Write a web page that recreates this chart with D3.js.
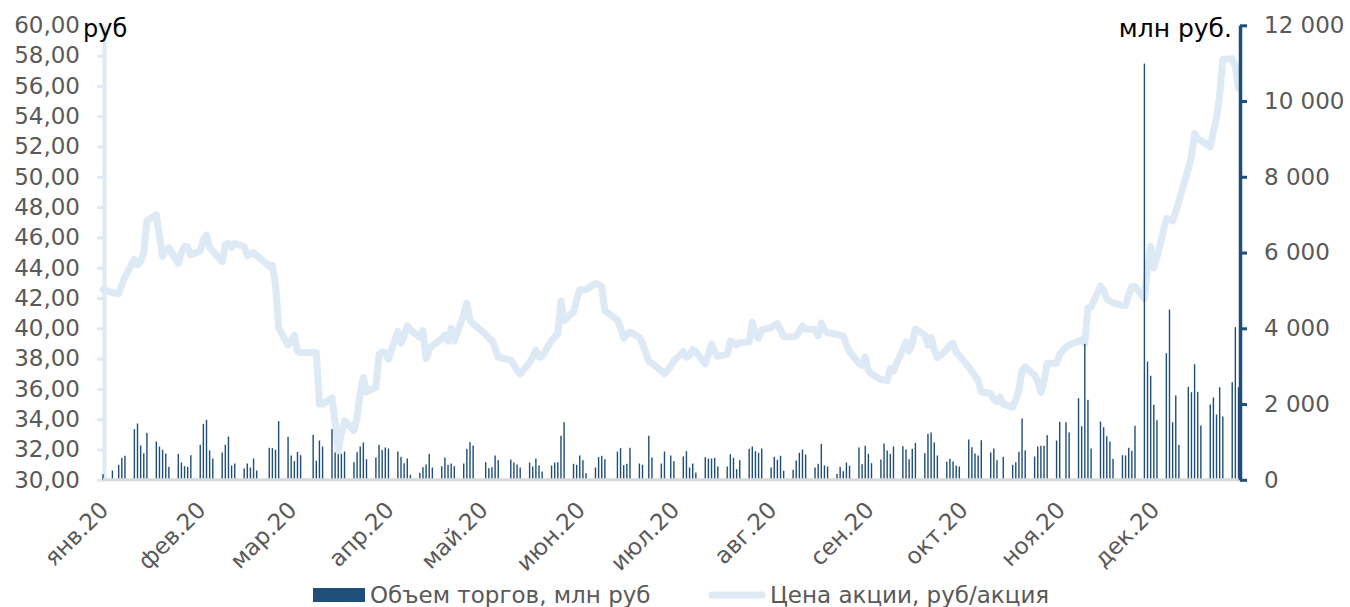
<!DOCTYPE html>
<html>
<head>
<meta charset="utf-8">
<script src="https://cdn.jsdelivr.net/npm/d3@7"></script>
<style>
  html, body { margin: 0; padding: 0; background: #fff; }
  svg { display: block; font-family: "DejaVu Sans", Verdana, sans-serif; }
</style>
</head>
<body>
<svg id="chart" width="1350" height="607"></svg>
<script>
// Exchange holidays (weekdays without trading) in 2020
const holidays = [
  "2020-01-07", "2020-02-24", "2020-03-09", "2020-05-01", "2020-05-11",
  "2020-06-12", "2020-06-24", "2020-07-01", "2020-11-04"
];

// Closing share price, rub per share, one value per trading day
const priceValues = [
  42.55,
  42.35, 42.3, 42.85, 43.4,
  44.55, 44.2, 44.4, 45.0, 47.1,
  47.5, 46.1, 44.75, 45.1, 45.3,
  44.3, 45.0, 45.4, 45.35, 44.85,
  45.1, 45.9, 46.15, 45.3, 45.1,
  44.4, 45.5, 45.6, 45.35, 45.6,
  45.4, 44.8, 44.9, 45.0, 44.8,
  44.1, 44.15, 42.9, 40.0,
  38.9, 39.2, 39.55, 38.5, 38.4,
  38.4, 38.4, 35.0, 35.0,
  35.4, 33.8, 31.9, 33.1, 33.9,
  33.25, 34.1, 35.7, 36.75, 35.8,
  36.1, 38.3, 38.45, 38.4, 37.95,
  39.8, 39.0, 39.5, 40.15, 39.9,
  39.4, 39.85, 38.0, 38.6, 38.85,
  39.3, 39.55, 39.15, 40.0, 39.15,
  40.9, 41.65, 40.55, 40.3,
  39.6, 39.35, 39.2, 38.7, 38.1,
  37.9, 37.6, 37.2, 36.98,
  37.75, 38.1, 38.55, 38.1, 38.15,
  39.2, 39.4, 39.65, 41.8, 40.5,
  41.1, 41.9, 42.55, 42.55, 42.55,
  42.95, 42.9, 42.75, 41.15,
  40.55, 40.0, 39.35, 39.6, 39.75,
  39.4, 39.0, 37.8, 37.7,
  37.2, 37.0, 37.5, 37.85,
  38.45, 38.1, 38.2, 38.6, 38.45,
  37.65, 38.3, 38.95, 38.45, 38.15,
  38.3, 39.15, 39.05, 38.9, 39.05,
  39.1, 40.4, 39.55, 39.35, 39.9,
  40.05, 40.2, 40.3, 39.9, 39.45,
  39.45, 39.5, 39.8, 40.15, 39.95,
  39.9, 39.5, 40.35, 39.9, 39.7,
  39.6, 39.55, 39.5, 38.9, 38.45,
  37.7, 37.55, 38.1, 37.2, 37.0,
  36.6, 36.6, 36.55, 37.35, 37.2,
  38.6, 39.1, 38.5, 39.0, 39.95,
  39.55, 38.9, 39.4, 38.6, 38.05,
  38.6, 38.9, 39.0, 38.4, 38.2,
  37.45, 37.15, 36.85, 36.55, 35.8,
  35.7, 35.3, 35.15, 35.45, 35.0,
  34.8, 35.3, 35.95, 37.2, 37.45,
  36.9, 36.5, 35.75, 36.5, 37.7,
  37.7, 38.3, 38.75, 38.9,
  39.15, 39.25, 39.0, 41.35, 41.4,
  42.8, 42.5, 41.95, 41.8, 41.7,
  41.5, 41.5, 42.2, 42.75, 42.75,
  41.95, 44.0, 45.4, 44.0, 44.7,
  47.25, 47.2, 47.1, 47.7, 48.4,
  50.55, 51.35, 52.85, 52.5, 52.4,
  52.0, 53.0, 53.9, 55.4, 57.75,
  57.8, 57.3, 55.85
];

// Trading volume, mln rub, one value per trading day
const volumeValues = [
  150,
  245, 396, 580, 634,
  1336, 1486, 905, 702, 1240,
  1011, 879, 792, 694, 343,
  686, 457, 359, 343, 650,
  924, 1478, 1584, 774, 562,
  721, 924, 1143, 378, 430,
  298, 430, 325, 562, 245,
  845, 836, 792, 1548,
  1135, 642, 492, 739, 650,
  1188, 502, 1037, 879,
  1336, 721, 676, 686, 747,
  465, 729, 879, 985, 544,
  589, 924, 792, 853, 826,
  747, 607, 438, 562, 132,
  185, 333, 404, 686, 325,
  359, 589, 396, 430, 359,
  430, 818, 993, 906,
  465, 307, 333, 642, 518,
  536, 457, 404, 325,
  457, 351, 562, 378, 219,
  378, 457, 465, 1162, 1521,
  422, 396, 642, 518, 174,
  325, 597, 634, 544,
  747, 836, 386, 422, 845,
  430, 396, 1162, 589,
  430, 747, 642, 492,
  615, 755, 325, 430, 193,
  597, 562, 562, 580, 351,
  351, 676, 580, 280, 518,
  818, 879, 755, 712, 826,
  325, 607, 528, 634, 238,
  264, 510, 712, 800, 668,
  325, 422, 950, 378, 351,
  158, 343, 227, 457, 370,
  853, 412, 898, 686, 438,
  536, 958, 774, 686, 879,
  888, 800, 544, 818, 976,
  703, 1214, 1249, 985, 642,
  475, 554, 483, 378, 351,
  1064, 861, 694, 642, 1046,
  721, 826, 518, 0, 607,
  396, 465, 739, 1618, 774,
  615, 879, 898, 898, 1178,
  1037, 1531, 1521, 1249,
  2154, 1415, 3590, 2112, 826,
  1539, 1389, 1151, 1011, 554,
  650, 642, 845, 766, 1426,
  10990, 3123, 2746, 1980, 1574,
  3342, 4496, 1521, 2226, 924,
  2455, 2313, 3052, 2323, 1434,
  1988, 2173, 1724, 2445, 1671,
  2577, 4029, 2445
];

const monthLabels = ["янв.20", "фев.20", "мар.20", "апр.20", "май.20", "июн.20",
                     "июл.20", "авг.20", "сен.20", "окт.20", "ноя.20", "дек.20"];
const priceTicks = d3.range(30, 60.001, 2);
const volumeTicks = d3.range(0, 12001, 2000);
const seriesNames = ["Объем торгов, млн руб", "Цена акции, руб/акция"];

// Trading calendar: weekdays from 3 Jan to 30 Dec minus holidays
const tradingDays = [];
for (let t = Date.UTC(2020, 0, 3); t <= Date.UTC(2020, 11, 30); t += 864e5) {
  const d = new Date(t);
  const wd = d.getUTCDay();
  if (wd === 0 || wd === 6) continue;
  if (holidays.includes(d.toISOString().slice(0, 10))) continue;
  tradingDays.push(d);
}
const rows = tradingDays.map((date, i) => ({ date, price: priceValues[i], volume: volumeValues[i] }));

const colors = { bar: "#1F4E79", line: "#DDEAF6", axisX: "#D9D9D9", text: "#595959" };
const fontFamily = "DejaVu Sans, Verdana, sans-serif";
const labelSize = "23px";

const svg = d3.select("#chart");
const plotTop = 25.3, plotBottom = 479.8;
const x = d3.scaleUtc()
  .domain([new Date(Date.UTC(2020, 0, 3)), new Date(Date.UTC(2020, 11, 30))])
  .range([103, 1238.5]);
const yL = d3.scaleLinear().domain([30, 60]).range([plotBottom, plotTop]);
const yR = d3.scaleLinear().domain([0, 12000]).range([plotBottom, plotTop]);

const fmtPrice = v => d3.format(".2f")(v).replace(".", ",");
const fmtVol = v => d3.format(",")(v).replace(/,/g, " ");

// Left (price) axis
const leftAxis = svg.append("g")
  .attr("transform", "translate(104,0)")
  .call(d3.axisLeft(yL).tickValues(priceTicks).tickFormat(fmtPrice)
    .tickSize(7).tickSizeOuter(0).tickPadding(17));
leftAxis.select(".domain").attr("stroke", colors.line).attr("stroke-width", 4);
leftAxis.selectAll(".tick line").attr("stroke", colors.line).attr("stroke-width", 3);
leftAxis.selectAll(".tick text").attr("fill", colors.text)
  .style("font-size", labelSize).style("font-family", fontFamily);

// Price line
svg.append("path")
  .datum(rows)
  .attr("fill", "none")
  .attr("stroke", colors.line)
  .attr("stroke-width", 7)
  .attr("stroke-linejoin", "round")
  .attr("stroke-linecap", "round")
  .attr("d", d3.line().x(d => x(d.date)).y(d => yL(d.price)));

// Volume bars
svg.append("g").selectAll("rect")
  .data(rows.filter(d => d.volume > 0))
  .join("rect")
  .attr("x", d => x(d.date) - 0.7)
  .attr("width", 1.4)
  .attr("y", d => yR(d.volume))
  .attr("height", d => plotBottom - yR(d.volume))
  .attr("fill", colors.bar);

// Date axis
const monthStarts = d3.range(12).map(m => new Date(Date.UTC(2020, m, 1)));
const xAxis = svg.append("g")
  .attr("transform", `translate(0,${plotBottom})`)
  .call(d3.axisBottom(x).tickValues(monthStarts).tickSize(0).tickSizeOuter(0)
    .tickFormat((d, i) => monthLabels[i]));
xAxis.select(".domain").attr("stroke", colors.axisX).attr("stroke-width", 3)
  .attr("d", `M${x.range()[0]},0H1240`);
xAxis.selectAll(".tick text")
  .attr("fill", colors.text)
  .style("font-size", labelSize).style("font-family", fontFamily)
  .attr("text-anchor", "end")
  .attr("y", 0).attr("dy", "0.35em")
  .attr("transform", "translate(7,26) rotate(-45)");

// Right (volume) axis
const rightAxis = svg.append("g")
  .attr("transform", "translate(1240,0)")
  .call(d3.axisRight(yR).tickValues(volumeTicks).tickFormat(fmtVol)
    .tickSize(7).tickSizeOuter(0).tickPadding(17));
rightAxis.select(".domain").attr("stroke", colors.bar).attr("stroke-width", 3.5);
rightAxis.selectAll(".tick line").attr("stroke", colors.bar).attr("stroke-width", 3);
rightAxis.selectAll(".tick text").attr("fill", colors.text)
  .style("font-size", labelSize).style("font-family", fontFamily);

// Unit captions
svg.append("text").attr("x", 83).attr("y", 37).attr("fill", "#000")
  .style("font-size", "24px").text("руб");
svg.append("text").attr("x", 1232).attr("y", 37).attr("fill", "#000")
  .attr("text-anchor", "end").style("font-size", "25px").text("млн руб.");

// Legend
const legend = svg.append("g");
legend.append("rect").attr("x", 313).attr("y", 588).attr("width", 52).attr("height", 14)
  .attr("fill", colors.bar);
legend.append("text").attr("x", 370).attr("y", 595).attr("dy", "0.35em")
  .attr("fill", colors.text).style("font-size", labelSize).text(seriesNames[0]);
legend.append("line").attr("x1", 712).attr("x2", 762).attr("y1", 595).attr("y2", 595)
  .attr("stroke", colors.line).attr("stroke-width", 7).attr("stroke-linecap", "round");
legend.append("text").attr("x", 770).attr("y", 595).attr("dy", "0.35em")
  .attr("fill", colors.text).style("font-size", labelSize).text(seriesNames[1]);
</script>
</body>
</html>
